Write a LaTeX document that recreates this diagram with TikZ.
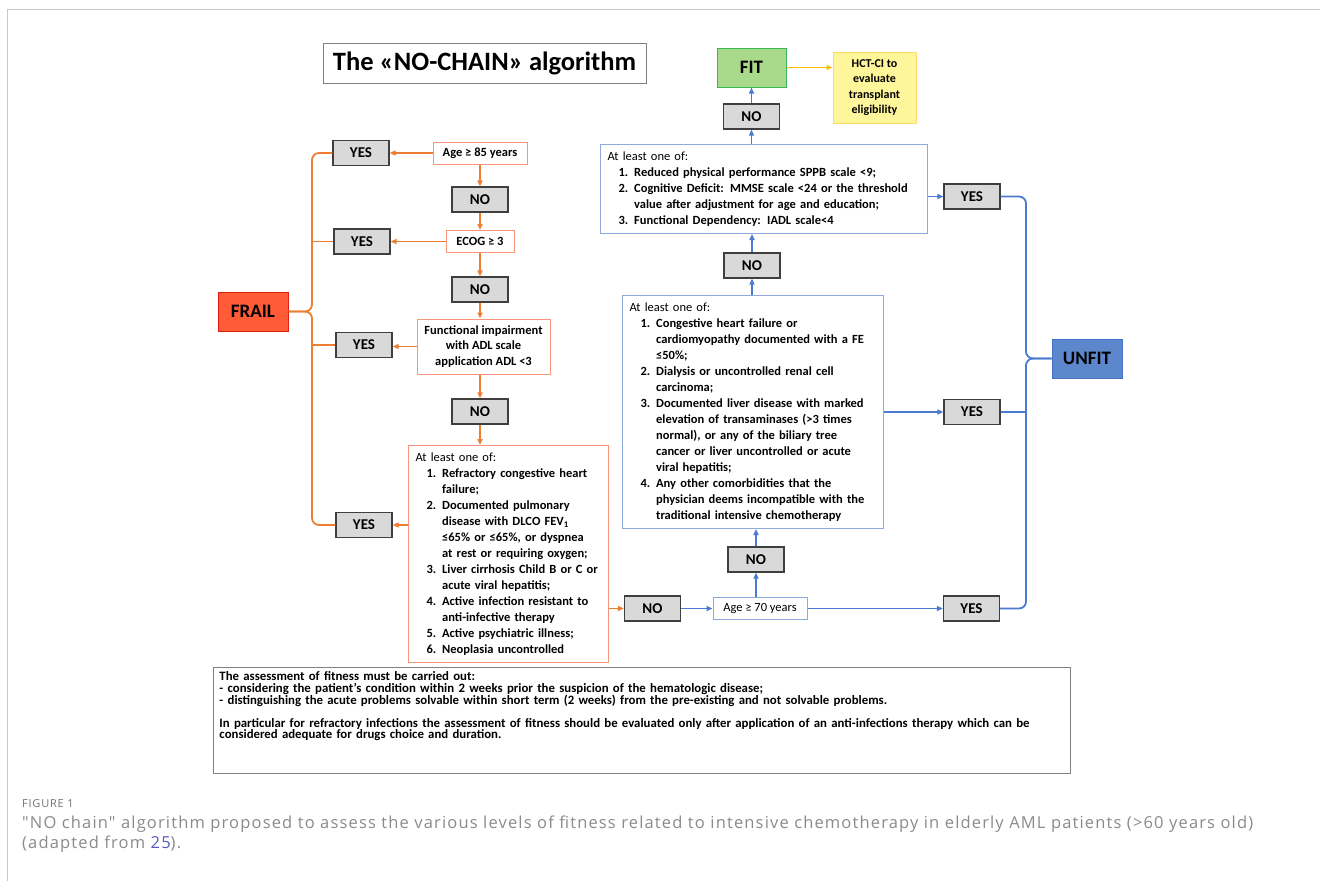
\documentclass[tikz,border=0pt]{standalone}
\usepackage{fontspec}
\setmainfont{Carlito}
\newfontfamily\captionfont[LetterSpace=7]{Open Sans}
\usetikzlibrary{arrows.meta}

\definecolor{lineorange}{HTML}{ED7D31}
\definecolor{condorange}{HTML}{F7947C}
\definecolor{lineblue}{HTML}{4A7BD0}
\definecolor{condblue}{HTML}{8EAADB}
\definecolor{boxgrey}{HTML}{3F3F3F}
\definecolor{answergrey}{HTML}{D9D9D9}
\definecolor{frailfill}{HTML}{FF5B36}
\definecolor{fraildraw}{HTML}{E0200F}
\definecolor{unfitfill}{HTML}{5C87CD}
\definecolor{unfitdraw}{HTML}{4472C4}
\definecolor{fitfill}{HTML}{A9D98A}
\definecolor{fitdraw}{HTML}{3CB85A}
\definecolor{hctfill}{HTML}{FFF59A}
\definecolor{hctdraw}{HTML}{FFD966}
\definecolor{hctline}{HTML}{FFC000}
\definecolor{framegrey}{HTML}{C8C8C8}
\definecolor{captiongrey}{HTML}{8A8A8A}
\definecolor{reflink}{HTML}{5A5AC0}

\begin{document}
\begin{tikzpicture}[x=1pt, y=-1pt,
    answer/.style={draw=boxgrey, fill=answergrey, line width=1.2pt,
        minimum width=56pt, minimum height=25pt, inner sep=0pt,
        font=\bfseries\fontsize{15}{18}\selectfont},
    verdict/.style={line width=1pt, minimum width=70pt, minimum height=39pt,
        inner sep=0pt, font=\bfseries\fontsize{19}{22}\selectfont},
    ocond/.style={draw=condorange, line width=1pt, fill=white, inner sep=0pt,
        align=center, font=\bfseries\fontsize{12.5}{15.5}\selectfont},
    bcond/.style={draw=condblue, line width=1pt, fill=white, inner sep=0pt,
        align=center, font=\fontsize{12.5}{15.5}\selectfont},
    listbox/.style={anchor=north west, line width=1pt, inner xsep=7pt, inner ysep=0pt,
        font=\bfseries\fontsize{12.5}{16}\selectfont},
    oline/.style={draw=lineorange, line width=1.8pt},
    bline/.style={draw=lineblue, line width=1.8pt},
    arr/.style={-{Triangle[length=6pt,width=5pt]}}]

    \useasboundingbox (0,0) rectangle (1320,881);
    \draw[framegrey, line width=1pt] (7,881) -- (7,9) -- (1320,9);

    % Title
    \node[draw=gray, line width=0.8pt, minimum width=323pt, minimum height=40pt, inner sep=0pt,
        font=\bfseries\fontsize{26.5}{29}\selectfont] (title) at (484.5,63) {The «NO-CHAIN» algorithm};

    % Nodes: frail chain
    \node[verdict, draw=fraildraw, fill=frailfill] (FRAIL) at (253,311.5) {FRAIL};
    \node[ocond, minimum width=94pt, minimum height=22pt] (Age85) at (480,153) {Age ≥ 85 years};
    \node[answer] (Y1) at (361,153) {YES};
    \node[answer] (N1) at (480,199.5) {NO};
    \node[ocond, minimum width=68pt, minimum height=22pt] (ECOG) at (480,241.5) {ECOG ≥ 3};
    \node[answer] (Y2) at (362,241.5) {YES};
    \node[answer] (N2) at (480,289.5) {NO};
    \node[ocond, minimum width=133pt, minimum height=55pt] (Func) at (483.5,346.5)
        {Functional impairment\\with ADL scale\\application ADL <3};
    \node[answer] (Y3) at (364,345) {YES};
    \node[answer] (N3) at (480,411.5) {NO};
    \node[listbox, draw=condorange, text width=186pt, minimum height=217pt] (Comorb) at (408,445) {%
        \noindent\begin{tabular}{@{\hskip11pt}r@{\hskip6pt}l@{}}
        \multicolumn{2}{@{}l@{}}{\mdseries At least one of:}\\
        1. & Refractory congestive heart\\
           & failure;\\
        2. & Documented pulmonary\\
           & disease with DLCO FEV\textsubscript{1}\\
           & ≤65\% or ≤65\%, or dyspnea\\
           & at rest or requiring oxygen;\\
        3. & Liver cirrhosis Child B or C or\\
           & acute viral hepatitis;\\
        4. & Active infection resistant to\\
           & anti-infective therapy\\
        5. & Active psychiatric illness;\\
        6. & Neoplasia uncontrolled
        \end{tabular}};
    \node[answer] (Y4) at (364,525) {YES};

    % Nodes: unfit chain
    \node[answer] (N4) at (652.5,608.5) {NO};
    \node[bcond, minimum width=94pt, minimum height=22pt] (Age70) at (760,608.5) {Age ≥ 70 years};
    \node[answer] (Yc) at (971.5,608.5) {YES};
    \node[answer] (Nb) at (756,559.5) {NO};
    \node[listbox, draw=condblue, text width=247pt, minimum height=233pt] (Mid) at (622,295) {%
        \noindent\begin{tabular}{@{\hskip11pt}r@{\hskip6pt}l@{}}
        \multicolumn{2}{@{}l@{}}{\mdseries At least one of:}\\
        1. & Congestive heart failure or\\
           & cardiomyopathy documented with a FE\\
           & ≤50\%;\\
        2. & Dialysis or uncontrolled renal cell\\
           & carcinoma;\\
        3. & Documented liver disease with marked\\
           & elevation of transaminases (>3 times\\
           & normal), or any of the biliary tree\\
           & cancer or liver uncontrolled or acute\\
           & viral hepatitis;\\
        4. & Any other comorbidities that the\\
           & physician deems incompatible with the\\
           & traditional intensive chemotherapy
        \end{tabular}};
    \node[answer] (Yb) at (972,412) {YES};
    \node[answer] (Nm) at (752,265.5) {NO};
    \node[listbox, draw=condblue, text width=313pt, minimum height=89pt] (Top) at (600,144) {%
        \noindent\begin{tabular}{@{\hskip11pt}r@{\hskip6pt}l@{}}
        \multicolumn{2}{@{}l@{}}{\mdseries At least one of:}\\
        1. & Reduced physical performance SPPB scale <9;\\
        2. & Cognitive Deficit: MMSE scale <24 or the threshold\\
           & value after adjustment for age and education;\\
        3. & Functional Dependency: IADL scale<4
        \end{tabular}};
    \node[answer] (Ya) at (972,196.5) {YES};
    \node[answer] (Nt) at (751.5,116.5) {NO};
    \node[verdict, draw=fitdraw, fill=fitfill, minimum width=69pt] (FIT) at (751.5,67.5) {FIT};
    \node[draw=hctdraw, fill=hctfill, line width=1pt, minimum width=83pt, minimum height=71pt,
        inner sep=0pt, align=center, font=\bfseries\fontsize{12}{15.5}\selectfont] (HCT) at (874.5,87.5)
        {HCT-CI to\\evaluate\\transplant\\eligibility};
    \node[verdict, draw=unfitdraw, fill=unfitfill] (UNFIT) at (1087,358.5) {UNFIT};
    \coordinate (lb) at (312,311.5);
    \coordinate (rb) at (1026,358.5);

    % Notes and caption
    \node[draw=gray, line width=0.9pt, anchor=north west, text width=845pt, inner xsep=6pt,
        inner ysep=4.5pt, text depth=87.5pt, align=left, font=\bfseries\fontsize{12.8}{11.3}\selectfont] (notes) at (213,667)
        {The assessment of fitness must be carried out:\\
        - considering the patient’s condition within 2 weeks prior the suspicion of the hematologic disease;\\
        - distinguishing the acute problems solvable within short term (2 weeks) from the pre-existing and not solvable problems.\\[11.3pt]
        In particular for refractory infections the assessment of fitness should be evaluated only after application of an anti-infections therapy which can be\\
        considered adequate for drugs choice and duration.};
    \node[anchor=base west, inner sep=0pt, text=gray!110!white, font=\captionfont\fontsize{11}{13}\selectfont] (fig) at (22,807) {FIGURE 1};
    \node[anchor=base west, inner sep=0pt, text width=1295pt, align=left, text=captiongrey,
        font=\captionfont\fontsize{16.5}{19.5}\selectfont] (caption) at (22,828.5)
        {"NO chain" algorithm proposed to assess the various levels of fitness related to intensive chemotherapy in elderly AML patients (>60 years old)\\
        (adapted from \textcolor{reflink}{25}).};

    % Arrows: frail chain
    \draw[oline, arr] (Age85) -- (Y1);
    \draw[oline, arr] (Age85) -- (N1);
    \draw[oline, arr] (N1) -- (ECOG);
    \draw[oline, arr] (ECOG) -- (Y2);
    \draw[oline, arr] (ECOG) -- (N2);
    \draw[oline, arr] (N2.south) -- (N2.south |- Func.north);
    \draw[oline, arr] (Func.west) -- (Func.west -| Y3.east);
    \draw[oline, arr] (N3.north |- Func.south) -- (N3.north);
    \draw[oline, arr] (N3.south) -- (N3.south |- Comorb.north);
    \draw[oline, arr] (Y4.east -| Comorb.west) -- (Y4.east);
    \draw[oline, arr] (N4.west -| Comorb.east) -- (N4.west);
    \draw[oline, rounded corners=7pt] (Y1.west) -| (lb) -- (FRAIL.east);
    \draw[oline, rounded corners=7pt] (Y4.west) -| (lb) -- (FRAIL.east);
    \draw[oline] (Y2.west) -- (Y2.west -| lb);
    \draw[oline] (Y3.west) -- (Y3.west -| lb);

    % Arrows: unfit chain
    \draw[bline, arr] (N4) -- (Age70);
    \draw[bline, arr] (Age70) -- (Yc);
    \draw[bline, arr] (Nb.south |- Age70.north) -- (Nb.south);
    \draw[bline, arr] (Nb.north) -- (Nb.north |- Mid.south);
    \draw[bline, arr] (Yb.west -| Mid.east) -- (Yb.west);
    \draw[bline, arr] (Nm.south |- Mid.north) -- (Nm.south);
    \draw[bline, arr] (Nm.north) -- (Nm.north |- Top.south);
    \draw[bline, arr] (Ya.west -| Top.east) -- (Ya.west);
    \draw[bline, arr] (Nt.south |- Top.north) -- (Nt.south);
    \draw[bline, arr] (Nt) -- (FIT);
    \draw[draw=hctline, line width=1.8pt, arr] (FIT.east) -- (FIT.east -| HCT.west);
    \draw[bline, rounded corners=7pt] (Ya.east) -| (rb) -- (UNFIT.west);
    \draw[bline, rounded corners=7pt] (Yc.east) -| (rb) -- (UNFIT.west);
    \draw[bline] (Yb.east) -- (Yb.east -| rb);
\end{tikzpicture}
\end{document}
